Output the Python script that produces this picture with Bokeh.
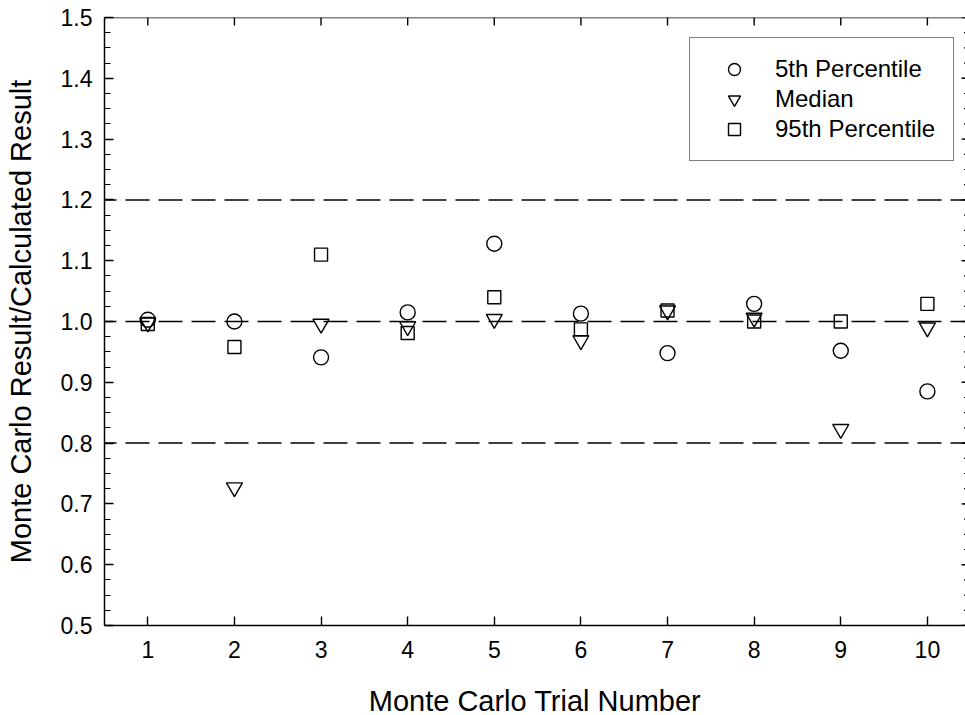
import math
from bokeh.plotting import figure
from bokeh.models import (Range1d, FixedTicker, Legend, LegendItem,
                          Span, ColumnDataSource)
from bokeh.embed import file_html
from bokeh.resources import INLINE

# ---- data ----
trials = [1, 2, 3, 4, 5, 6, 7, 8, 9, 10]
p5 = [1.003, 1.000, 0.941, 1.015, 1.128, 1.013, 0.948, 1.029, 0.952, 0.885]
median = [0.998, 0.727, 0.996, 0.992, 1.004, 0.969, 1.018, 1.006, 0.823, 0.990]
p95 = [0.996, 0.958, 1.110, 0.981, 1.040, 0.987, 1.018, 1.000, 1.000, 1.029]
ref_lines = [0.8, 1.0, 1.2]

x_ticks = [1, 2, 3, 4, 5, 6, 7, 8, 9, 10]
y_ticks = [0.5, 0.6, 0.7, 0.8, 0.9, 1.0, 1.1, 1.2, 1.3, 1.4, 1.5]
y_tick_labels = ["0.5", "0.6", "0.7", "0.8", "0.9", "1.0", "1.1", "1.2", "1.3", "1.4", "1.5"]
y_minor = [round(0.5 + 0.025 * i, 3) for i in range(41)]

x_title = "Monte Carlo Trial Number"
y_title = "Monte Carlo Result/Calculated Result"
series_names = ["5th Percentile", "Median", "95th Percentile"]

FONT = "Liberation Sans"
X0, X1, Y0, Y1 = 0.5, 10.44, 0.5, 1.5

src = ColumnDataSource(dict(x=trials, p5=p5, med=median, p95=p95))

p = figure(frame_width=861, frame_height=608,
           x_range=Range1d(X0, X1), y_range=Range1d(Y0, Y1),
           output_backend="svg", toolbar_location=None,
           min_border_left=104, min_border_top=17, min_border_bottom=90,
           min_border_right=0, background_fill_color="white",
           border_fill_color="white")
p.outline_line_color = None
p.xgrid.visible = False
p.ygrid.visible = False

for y in ref_lines:
    p.add_layout(Span(location=y, dimension="width", line_color="black",
                      line_width=1.5, line_dash="24 9", line_dash_offset=12))

# top spine and tick stubs on the top and right edges
p.add_layout(Span(location=Y1, dimension="width", line_color="black", line_width=1.5))
p.ray(x=x_ticks, y=[Y1] * len(x_ticks), length=8, length_units="screen",
      angle=-math.pi / 2, line_color="black", line_width=1.4)
p.ray(x=[X1] * len(y_ticks), y=y_ticks, length=4, length_units="screen",
      angle=math.pi, line_color="black", line_width=1.4)
p.ray(x=[X1] * len(y_minor), y=y_minor, length=1.5, length_units="screen",
      angle=math.pi, line_color="black", line_width=1.2)

r1 = p.scatter("x", "p5", source=src, marker="circle", size=15,
               fill_color=None, line_color="black", line_width=1.4)
r2 = p.scatter("x", "med", source=src, marker="inverted_triangle", size=16,
               fill_color=None, line_color="black", line_width=1.4)
r3 = p.scatter("x", "p95", source=src, marker="square", size=13,
               fill_color=None, line_color="black", line_width=1.4)

xa = p.xaxis[0]
xa.ticker = FixedTicker(ticks=x_ticks)
xa.axis_label = x_title
ya = p.yaxis[0]
ya.ticker = FixedTicker(ticks=y_ticks, minor_ticks=y_minor)
ya.major_label_overrides = {v: s for v, s in zip(y_ticks, y_tick_labels)}
ya.axis_label = y_title

for ax in (xa, ya):
    ax.axis_line_width = 1.5
    ax.major_tick_in = 9
    ax.major_tick_out = 0
    ax.major_tick_line_width = 1.4
    ax.minor_tick_in = 6
    ax.minor_tick_out = 0
    ax.minor_tick_line_width = 1.2
    ax.major_label_text_font = FONT
    ax.major_label_text_font_size = "23px"
    ax.major_label_text_color = "black"
    ax.axis_label_text_font = FONT
    ax.axis_label_text_font_size = "29px"
    ax.axis_label_text_font_style = "normal"
    ax.axis_label_text_color = "black"
xa.minor_tick_line_color = None
xa.major_label_standoff = 15
xa.axis_label_standoff = 24
ya.major_label_standoff = 12
ya.axis_label_standoff = 21

legend = Legend(items=[LegendItem(label=series_names[0], renderers=[r1]),
                       LegendItem(label=series_names[1], renderers=[r2]),
                       LegendItem(label=series_names[2], renderers=[r3])],
                location=(585, 464), margin=0, padding=16,
                glyph_width=56, glyph_height=30, spacing=0,
                label_standoff=13, label_width=162, label_height=30,
                label_text_font=FONT, label_text_font_size="24px",
                label_text_color="black",
                border_line_color="black", border_line_width=1.3,
                background_fill_color="white", background_fill_alpha=1.0)
p.add_layout(legend, "center")

open("out.html", "w").write(file_html(p, INLINE))
